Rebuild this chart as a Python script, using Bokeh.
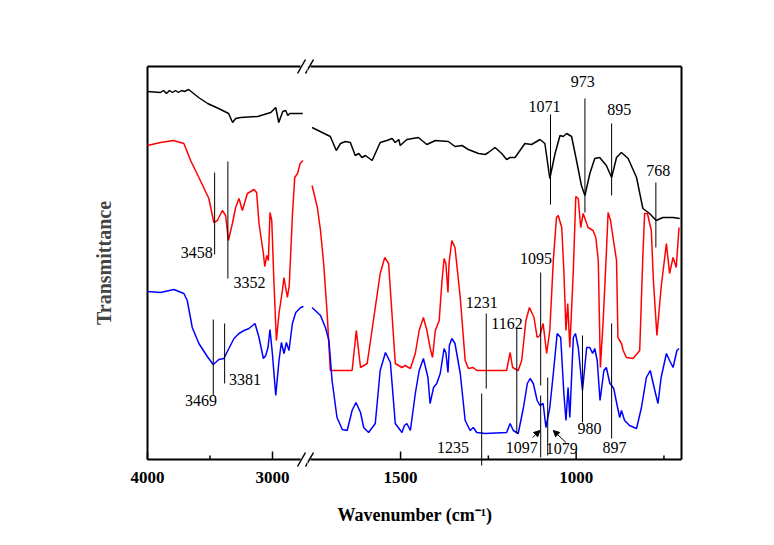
from bokeh.plotting import figure
from bokeh.layouts import row
from bokeh.models import Range1d, FixedTicker, Arrow, NormalHead, Title, ColumnDataSource
from bokeh.core.properties import value
from bokeh.embed import file_html
from bokeh.resources import INLINE

# ---------------- data (wavenumber in cm-1, transmittance in arbitrary units) ----------------
black_left_wn = [4000, 3896, 3872, 3848, 3824, 3800, 3776, 3752, 3728, 3704, 3671, 3591, 3519, 3431,
                 3351, 3319, 3295, 3255, 3119, 3014, 2974, 2950, 2918, 2894, 2878, 2862, 2758]
black_left_t = [368, 367, 369, 366, 369, 367, 369, 367, 369, 368, 370, 362, 356, 351,
                346, 337, 341, 342, 343, 347, 352, 337, 348, 349, 344, 346, 346]

black_right_wn = [1752, 1700, 1683, 1671, 1657, 1643, 1629, 1619, 1610, 1600, 1581, 1558, 1539, 1524, 1515,
                  1505, 1501, 1482, 1449, 1439, 1425, 1401, 1364, 1345, 1325, 1307, 1278, 1259, 1250, 1231,
                  1212, 1198, 1188, 1174, 1146, 1127, 1103, 1089, 1075, 1060, 1046, 1037, 1027, 1013, 999,
                  985, 975, 961, 947, 933, 914, 899, 885, 871, 852, 828, 810, 791, 772, 753, 724, 705]
black_right_t = [332, 323, 309, 316, 318, 317, 304, 306, 302, 304, 299, 317, 319, 321, 317,
                 320, 314, 320, 322, 319, 315, 319, 318, 313, 314, 310, 306, 305, 307, 312,
                 306, 300, 302, 302, 316, 315, 320, 316, 281, 306, 324, 323, 326, 323, 299,
                 274, 264, 286, 301, 302, 294, 282, 302, 307, 301, 282, 251, 246, 239, 242, 242, 241]

red_left_wn = [4000, 3896, 3792, 3709, 3655, 3589, 3509, 3469, 3441, 3401, 3375, 3353, 3321, 3295, 3268,
               3241, 3201, 3148, 3127, 3108, 3073, 3062, 3046, 3033, 3020, 3006, 2988, 2969, 2948, 2921,
               2908, 2881, 2866, 2840, 2822, 2800, 2779, 2755]
red_left_t = [314, 317, 319, 316, 299, 282, 261, 237, 239, 249, 244, 219, 236, 252, 261,
              249, 266, 270, 267, 236, 206, 193, 204, 199, 247, 239, 176, 119, 146, 169,
              182, 162, 174, 246, 282, 286, 296, 299]

red_right_wn = [1752, 1737, 1728, 1719, 1709, 1700, 1638, 1626, 1614, 1595, 1558, 1545, 1534, 1515, 1496,
                1487, 1472, 1458, 1447, 1435, 1425, 1416, 1409, 1401, 1390, 1382, 1376, 1371, 1365, 1362,
                1354, 1345, 1330, 1316, 1307, 1293, 1283, 1198, 1188, 1181, 1165, 1155, 1143, 1133, 1120,
                1111, 1103, 1094, 1084, 1075, 1065, 1056, 1051, 1041, 1035, 1029, 1024, 1018, 1008, 1001,
                994, 987, 980, 966, 952, 944, 937, 931, 923, 914, 909, 902, 895, 885, 881,
                871, 866, 857, 838, 819, 810, 805, 797, 786, 780, 770, 758, 743, 734, 724, 715, 707]
red_right_t = [274, 252, 229, 196, 146, 89, 89, 129, 92, 96, 186, 202, 196, 96, 92,
               94, 91, 106, 129, 142, 129, 112, 102, 129, 139, 179, 201, 196, 167, 196,
               219, 212, 162, 99, 91, 92, 89, 89, 107, 92, 89, 99, 139, 152, 142,
               122, 124, 136, 106, 129, 199, 242, 244, 232, 189, 129, 156, 112, 189, 263,
               261, 232, 246, 232, 229, 222, 199, 92, 139, 206, 247, 239, 222, 199, 122,
               116, 109, 102, 101, 109, 204, 246, 246, 229, 179, 124, 172, 216, 186, 202, 192, 232]

blue_left_wn = [4000, 3896, 3789, 3709, 3682, 3642, 3589, 3522, 3474, 3429, 3389, 3357, 3308, 3268, 3228,
                3188, 3140, 3108, 3073, 3054, 3036, 3020, 3001, 2974, 2948, 2929, 2908, 2889, 2868, 2841,
                2814, 2774, 2752]
blue_left_t = [168, 167, 170, 166, 159, 132, 116, 103, 95, 100, 101, 109, 121, 126, 129,
               131, 136, 122, 101, 104, 112, 130, 106, 64, 99, 117, 106, 117, 109, 136,
               147, 152, 153]

blue_right_wn = [1752, 1728, 1714, 1704, 1695, 1681, 1666, 1652, 1638, 1627, 1614, 1605, 1591, 1572, 1558,
                 1543, 1529, 1515, 1496, 1489, 1482, 1472, 1458, 1447, 1435, 1422, 1416, 1406, 1397, 1387,
                 1376, 1371, 1365, 1361, 1354, 1345, 1330, 1316, 1302, 1293, 1283, 1259, 1198, 1188, 1179,
                 1165, 1150, 1139, 1131, 1122, 1111, 1103, 1094, 1086, 1075, 1065, 1054, 1044, 1035, 1029,
                 1023, 1018, 1008, 1002, 994, 982, 970, 961, 953, 947, 940, 932, 921, 914, 904,
                 899, 893, 885, 876, 871, 862, 848, 828, 814, 800, 789, 776, 767, 758, 743,
                 734, 724, 713, 707]
blue_right_t = [152, 144, 132, 119, 79, 42, 30, 29, 49, 57, 47, 32, 27, 36, 89,
                107, 97, 36, 27, 34, 36, 29, 66, 89, 101, 82, 56, 72, 76, 86,
                111, 107, 87, 114, 121, 116, 86, 39, 29, 32, 27, 26, 27, 36, 29,
                26, 52, 76, 81, 76, 59, 54, 56, 32, 52, 86, 126, 122, 66, 39,
                72, 42, 122, 126, 112, 69, 112, 112, 106, 111, 99, 59, 89, 92, 76,
                74, 71, 57, 42, 49, 39, 34, 31, 52, 82, 89, 69, 56, 82, 106,
                99, 92, 109, 111]

# peak annotations: label text, marker-line position (as drawn), line top / bottom
left_peaks = ["3458", "3352", "3469", "3381"]
left_peak_line_wn = [3463, 3357, 3474, 3383]
left_peak_line_top = [287, 298, 140, 136]
left_peak_line_bot = [205, 181, 64, 76]

right_peaks = ["1071", "973", "895", "768", "1095", "1231", "1162", "1235", "1097", "1079", "980", "897"]
right_peak_line_wn = [1073, 975, 899, 773, 1101, 1256, 1169, 1269, 1101, 1081, 982, 899]
right_peak_line_top = [345, 361, 336, 277, 187, 146, 131, 66, 64, 82, 124, 136]
right_peak_line_bot = [255, 247, 264, 212, 74, 71, 26, -6, 2, 4, 37, 21]

x_ticks_left = [4000, 3000]
x_minor_left = [3500]
x_ticks_right = [1500, 1000]
x_minor_right = [1250, 750]

# ---------------- layout (placement of annotation texts) ----------------
left_label_pos = [(3479, 207, "right"), (3313, 177, "left"), (3573, 59, "center"), (3349, 80, "left")]
right_label_pos = [(1090, 353, "center"), (981, 378, "center"), (877, 350, "center"), (766, 289, "center"),
                   (1114, 201, "center"), (1269, 157, "center"), (1197, 136, "center"), (1351, 12, "center"),
                   (1155, 12, "center"), (1041, 11, "center"), (962, 31, "center"), (891, 12, "center")]

SERIF = "Liberation Serif"
BOX_H = 393          # plotted box height (px == data units)
E = 10               # frame extends E px beyond the drawn box so that break marks are not clipped
BOX_TOP = 66
L_X0, L_X1 = 4000, 2720      # left panel wavenumber span
R_X0, R_X1 = 1765, 700       # right panel wavenumber span
L_W, R_W = 160, 374          # box widths in px
BOX_LEFT = 147
KL = (L_X0 - L_X1) / L_W     # cm-1 per px
KR = (R_X0 - R_X1) / R_W


def to_left(px):
    return L_X0 - (px - BOX_LEFT) * KL


def to_right(px):
    return R_X0 - (px - (BOX_LEFT + L_W)) * KR


def to_t(py):
    return BOX_TOP + BOX_H - py


def make_fig(xr, fw, mleft, mright, left_axis):
    p = figure(frame_width=fw, frame_height=BOX_H + 2 * E,
               x_range=Range1d(*xr), y_range=Range1d(-E, BOX_H + E),
               output_backend="svg", toolbar_location=None,
               min_border_left=mleft, min_border_right=mright,
               min_border_top=BOX_TOP - E, min_border_bottom=545 - (BOX_TOP + BOX_H) - E,
               y_axis_location="left" if left_axis else None)
    p.outline_line_color = None
    p.grid.visible = False
    p.background_fill_color = "white"
    p.border_fill_color = "white"
    ax = p.xaxis[0]
    ax.axis_line_color = None
    ax.major_tick_line_color = None
    ax.minor_tick_line_color = None
    ax.major_tick_out = 0
    ax.major_tick_in = 0
    ax.minor_tick_out = 0
    ax.minor_tick_in = 0
    ax.major_label_text_font = SERIF
    ax.major_label_text_font_style = "bold"
    ax.major_label_text_font_size = "17px"
    ax.major_label_text_color = "black"
    ax.major_label_standoff = 12 - E
    return p


p1 = make_fig((L_X0 + E * KL, L_X1), L_W + E, BOX_LEFT - E, 0, True)
p1.xaxis[0].ticker = FixedTicker(ticks=x_ticks_left)
ya = p1.yaxis[0]
ya.ticker = FixedTicker(ticks=[])
ya.axis_line_color = None
ya.major_tick_line_color = None
ya.minor_tick_line_color = None
ya.major_tick_out = 0
ya.minor_tick_out = 0
ya.axis_label = "Transmittance"
ya.axis_label_text_font = SERIF
ya.axis_label_text_font_style = "bold"
ya.axis_label_text_font_size = "20px"
ya.axis_label_standoff = 33 - E

p2 = make_fig((R_X0, R_X1 - E * KR), R_W + E, 0, 774 - (BOX_LEFT + L_W + R_W) - E, False)
p2.xaxis[0].ticker = FixedTicker(ticks=x_ticks_right)

# ---- box borders and inward tick marks ----
p1.segment(x0=[L_X0, L_X0, L_X0], y0=[0, BOX_H, 0], x1=[L_X1, L_X1, L_X0], y1=[0, BOX_H, BOX_H],
           line_color="black", line_width=2)
p2.segment(x0=[R_X0, R_X0, R_X1], y0=[0, BOX_H, 0], x1=[R_X1, R_X1, R_X1], y1=[0, BOX_H, BOX_H],
           line_color="black", line_width=2)
for p, maj, mnr in ((p1, x_ticks_left, x_minor_left), (p2, x_ticks_right, x_minor_right)):
    p.segment(x0=maj, y0=[0] * len(maj), x1=maj, y1=[8] * len(maj), line_color="black", line_width=1.5)
    p.segment(x0=mnr, y0=[0] * len(mnr), x1=mnr, y1=[4] * len(mnr), line_color="black", line_width=1.5)

# ---- spectra ----
LW = 1.5
p1.line(black_left_wn, black_left_t, line_color="black", line_width=LW)
p1.line(red_left_wn, red_left_t, line_color="#ff0000", line_width=LW)
p1.line(blue_left_wn, blue_left_t, line_color="#0000ff", line_width=LW)
p2.line(black_right_wn, black_right_t, line_color="black", line_width=LW)
p2.line(red_right_wn, red_right_t, line_color="#ff0000", line_width=LW)
p2.line(blue_right_wn, blue_right_t, line_color="#0000ff", line_width=LW)


def annotate(p, names, lx, ltop, lbot, pos):
    p.segment(x0=lx, y0=ltop, x1=lx, y1=lbot, line_color="black", line_width=1)
    for aln in ("left", "center", "right"):
        idx = [i for i, q in enumerate(pos) if q[2] == aln]
        if not idx:
            continue
        src = ColumnDataSource(dict(x=[pos[i][0] for i in idx], y=[pos[i][1] for i in idx],
                                    t=[names[i] for i in idx]))
        p.text(x="x", y="y", text="t", source=src, text_align=aln, text_baseline="middle",
               text_font=value(SERIF), text_font_size="16px", text_color="black")


annotate(p1, left_peaks, left_peak_line_wn, left_peak_line_top, left_peak_line_bot, left_label_pos)
annotate(p2, right_peaks, right_peak_line_wn, right_peak_line_top, right_peak_line_bot, right_label_pos)

# small arrows pointing at 1097 and 1079
for (xs, ys, xe, ye) in [(1124, 22, 1103, 29), (1029, 17, 1065, 29)]:
    p2.add_layout(Arrow(x_start=xs, y_start=ys, x_end=xe, y_end=ye, line_width=1, line_color="black",
                        end=NormalHead(size=6, fill_color="black", line_color="black")))

# ---- axis-break marks "//" on top and bottom borders (drawn in both panels) ----
for conv, p in ((to_left, p1), (to_right, p2)):
    gx0, gx1, gy = [], [], []
    sx0, sy0, sx1, sy1 = [], [], [], []
    for pyb in (BOX_TOP, BOX_TOP + BOX_H):
        gx0.append(conv(300)); gx1.append(conv(310)); gy.append(to_t(pyb))
        for (a, b) in ((297, 305), (305, 313)):
            sx0.append(conv(a)); sy0.append(to_t(pyb + 7))
            sx1.append(conv(b)); sy1.append(to_t(pyb - 7))
    p.segment(x0=gx0, y0=gy, x1=gx1, y1=gy, line_color="white", line_width=4)
    p.segment(x0=sx0, y0=sy0, x1=sx1, y1=sy1, line_color="black", line_width=1.5)

xtitle = Title(text="Wavenumber (cm\u207b\u00b9)", align="left", offset=30,
               text_font=SERIF, text_font_style="bold", text_font_size="18px", text_color="black")
if "standoff" in Title.properties():
    xtitle.standoff = 34
p2.add_layout(xtitle, "below")

layout = row(p1, p2)
open("out.html", "w").write(file_html(layout, INLINE))
